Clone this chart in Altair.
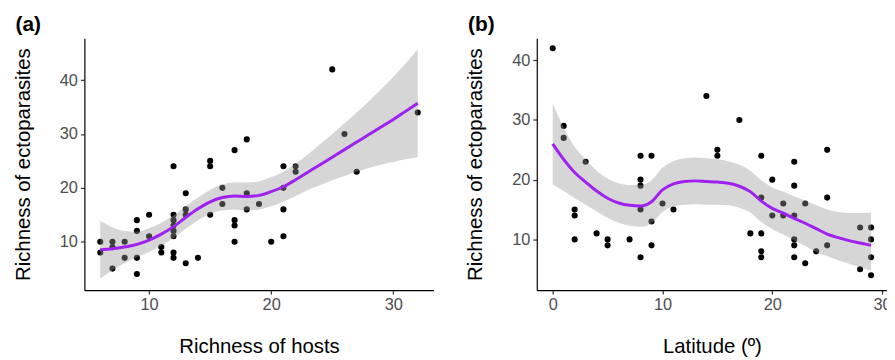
import altair as alt
import pandas as pd

# ---------------- Panel (a): richness of hosts ----------------
a_hosts = [6, 6, 7, 7, 7, 8, 8, 9, 9, 9, 9, 10, 10, 11, 11,
           12, 12, 12, 12, 12, 12, 12, 12, 13, 13, 13, 13, 14,
           15, 15, 15, 16, 16, 17, 17, 17, 17, 18, 18, 18, 19,
           20, 21, 21, 21, 21, 22, 22, 25, 26, 27, 32]
a_ecto = [10, 8, 10, 9, 5, 10, 7, 14, 12, 7, 4, 15, 11, 9, 8,
          15, 14, 13, 12, 11, 8, 7, 24, 19, 16, 15, 6, 7,
          15, 25, 24, 20, 17, 14, 13, 10, 27, 19, 16, 29, 17,
          10, 24, 20, 16, 11, 24, 23, 42, 30, 23, 34]

a_fit_x = [6, 7, 8, 9, 10, 11, 12, 13, 14, 15, 16, 17, 18, 19, 20,
           21, 22, 23, 24, 25, 26, 27, 28, 29, 30, 31, 32]
a_fit_y = [8.5, 8.7, 9.0, 9.5, 10.3, 11.4, 12.8, 14.5, 16.1, 17.4, 18.2,
           18.5, 18.4, 18.6, 19.3, 20.2, 21.5, 22.9, 24.3, 25.7, 27.1,
           28.5, 29.9, 31.3, 32.7, 34.2, 35.7]
a_fit_lo = [3.1, 4.7, 6.0, 7.1, 8.1, 9.3, 10.7, 12.4, 14.0, 15.2, 15.8,
            16.0, 15.8, 16.0, 16.6, 17.4, 18.5, 19.6, 20.5, 21.4, 22.2,
            23.0, 23.7, 24.3, 24.8, 25.3, 25.7]
a_fit_hi = [13.9, 12.7, 12.0, 11.9, 12.5, 13.5, 14.9, 16.6, 18.2, 19.6,
            20.6, 21.0, 21.0, 21.2, 22.0, 23.0, 24.5, 26.2, 28.1, 30.0,
            32.0, 34.0, 36.1, 38.3, 40.6, 43.1, 45.7]

# ---------------- Panel (b): latitude ----------------
b_lat = [0, 1, 1, 2, 2, 2, 3, 4, 5, 5, 7, 8, 8, 8, 8, 8, 9, 9, 9,
         10, 11, 14, 15, 15, 17, 18, 19, 19, 19, 19, 19, 20, 20, 21,
         21, 22, 22, 22, 22, 22, 22, 23, 23, 24, 25, 25, 25, 28, 28,
         29, 29, 29, 29]
b_ecto = [42, 29, 27, 15, 14, 10, 23, 11, 10, 9, 10, 24, 20, 19, 15, 7,
          24, 13, 9, 16, 15, 34, 25, 24, 30, 11, 24, 17, 11, 8, 7, 20,
          14, 16, 14, 23, 19, 14, 10, 9, 7, 16, 6, 8, 25, 17, 9, 12, 5,
          12, 10, 7, 4]

b_fit_x = list(range(0, 30))
b_fit_y = [26.0, 23.4, 21.2, 19.6, 18.1, 16.9, 16.1, 15.7, 15.6, 16.3,
           18.3, 19.3, 19.7, 19.8, 19.7, 19.6, 19.4, 18.9, 18.0, 16.4,
           15.2, 14.4, 13.5, 12.7, 11.8, 10.9, 10.3, 9.8, 9.4, 9.0]
b_fit_lo = [19.2, 18.1, 16.9, 15.8, 14.7, 13.6, 12.8, 12.3, 12.1, 12.7,
            14.6, 15.5, 15.8, 15.9, 15.8, 15.8, 15.7, 15.3, 14.5, 12.9,
            11.7, 10.8, 9.8, 8.9, 7.9, 7.2, 6.5, 5.9, 5.3, 4.8]
b_fit_hi = [32.8, 28.7, 25.5, 23.4, 21.5, 20.2, 19.4, 19.1, 19.1, 19.9,
            22.0, 23.1, 23.6, 23.7, 23.6, 23.4, 23.1, 22.5, 21.5, 19.9,
            18.7, 18.0, 17.2, 16.5, 15.7, 15.0, 14.6, 14.4, 14.4, 14.5]

FONT = "Liberation Sans"


def panel(px, py, fx, fy, flo, fhi, xdom, ydom, xticks, xtitle, label, width):
    pts = pd.DataFrame({"x": px, "y": py})
    fit = pd.DataFrame({"x": fx, "fit": fy, "lo": flo, "hi": fhi})
    xs = alt.Scale(domain=xdom, nice=False, zero=False)
    ys = alt.Scale(domain=ydom, nice=False, zero=False)
    xa = alt.Axis(values=xticks, title=xtitle, titlePadding=23)
    ya = alt.Axis(values=[10, 20, 30, 40], title="Richness of ectoparasites",
                  titlePadding=26)
    X = alt.X("x:Q", scale=xs, axis=xa)
    points = alt.Chart(pts).mark_circle(size=38, color="black", opacity=1).encode(
        x=X, y=alt.Y("y:Q", scale=ys, axis=ya)
    )
    band = alt.Chart(fit).mark_area(
        color="#999999", opacity=0.4, interpolate="monotone"
    ).encode(x=X, y=alt.Y("lo:Q", scale=ys, axis=ya), y2="hi:Q")
    line = alt.Chart(fit).mark_line(
        color="#A020F0", strokeWidth=3, interpolate="monotone"
    ).encode(x=X, y=alt.Y("fit:Q", scale=ys, axis=ya))
    return alt.layer(points, band, line).properties(
        width=width,
        height=254,
        title=alt.TitleParams(
            label, anchor="start", frame="bounds", fontSize=21,
            fontWeight="bold", font=FONT, color="black", offset=3, dx=2
        ),
    )


pa = panel(a_hosts, a_ecto, a_fit_x, a_fit_y, a_fit_lo, a_fit_hi,
           [4.7, 33.3], [1.0, 47.8], [10, 20, 30], "Richness of hosts", "(a)", 352)
pb = panel(b_lat, b_ecto, b_fit_x, b_fit_y, b_fit_lo, b_fit_hi,
           [-1.45, 30.45], [1.5, 43.7], [0, 10, 20, 30], "Latitude (º)", "(b)", 353)

chart = (
    alt.hconcat(pa, pb, spacing=32)
    .configure_view(stroke=None)
    .configure_axis(
        grid=False,
        domainColor="black",
        domainWidth=1.2,
        tickColor="#333333",
        tickWidth=1.2,
        tickSize=4,
        labelFont=FONT,
        labelFontSize=16.5,
        labelColor="#4D4D4D",
        labelPadding=3,
        titleFont=FONT,
        titleFontSize=20.5,
        titleFontWeight="normal",
        titleColor="black",
    )
    .properties(padding={"left": 5, "top": 5, "right": -5, "bottom": 0})
)

chart.save("out.html", embed_options={"renderer": "svg", "actions": False})
